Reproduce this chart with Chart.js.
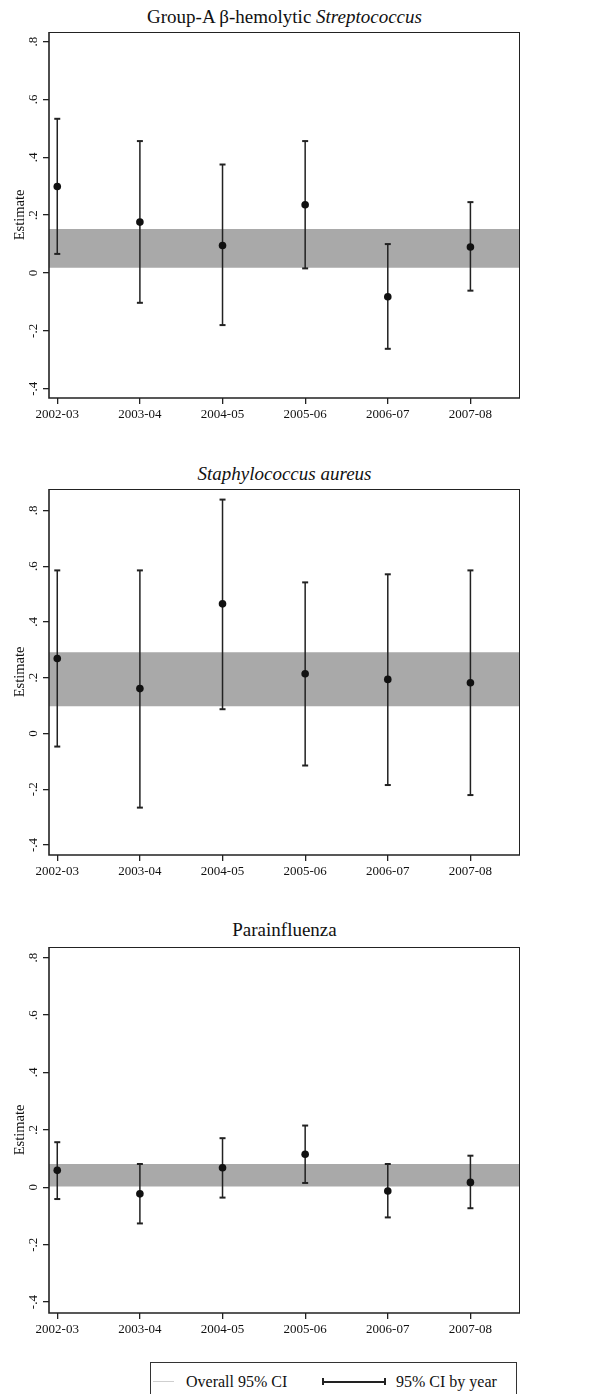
<!DOCTYPE html>
<html><head><meta charset="utf-8">
<script src="https://cdn.jsdelivr.net/npm/chart.js@4"></script>
<style>
body{margin:0;background:#fff;width:610px;height:1394px;overflow:hidden;position:relative;font-family:'Liberation Serif','Times New Roman',serif;color:#111}
.panel{position:absolute;left:0;width:530px;height:430px}
.title{position:absolute;left:49px;width:471px;text-align:center;font-size:19px;line-height:22px;white-space:nowrap}
.legend{position:absolute;left:150px;top:1362px;width:367px;height:50px;border:1px solid #333;box-sizing:border-box;font-size:16px}
.legend span{position:absolute;top:9px;line-height:20px;white-space:nowrap}
.ln{position:absolute}
</style>
</head><body>
<div class="title" style="top:6px">Group-A β-hemolytic <i>Streptococcus</i></div>
<div class="panel" style="top:0px"><canvas id="c1" width="530" height="430"></canvas></div>
<div class="title" style="top:463px"><i>Staphylococcus aureus</i></div>
<div class="panel" style="top:457px"><canvas id="c2" width="530" height="430"></canvas></div>
<div class="title" style="top:919px">Parainfluenza</div>
<div class="panel" style="top:915px"><canvas id="c3" width="530" height="430"></canvas></div>
<div class="legend">
  <div class="ln" style="left:2px;top:18px;width:21px;height:1px;background:#cfcfcf"></div>
  <span style="left:35px">Overall 95% CI</span>
  <div class="ln" style="left:171px;top:18px;width:63px;height:1.5px;background:#222"></div>
  <div class="ln" style="left:171px;top:15px;width:1.5px;height:7px;background:#222"></div>
  <div class="ln" style="left:233px;top:15px;width:1.5px;height:7px;background:#222"></div>
  <span style="left:245px">95% CI by year</span>
</div>
<script>
const categories = ['2002-03','2003-04','2004-05','2005-06','2006-07','2007-08'];
const yTickValues = [-0.4,-0.2,0,0.2,0.4,0.6,0.8];
const yTickLabels = ['-.4','-.2','0','.2','.4','.6','.8'];
const xRange = [-0.1, 5.6];

const strepEstimate = [0.299, 0.176, 0.095, 0.236, -0.082, 0.090];
const strepLower    = [0.066, -0.103, -0.180, 0.016, -0.262, -0.061];
const strepUpper    = [0.533, 0.456, 0.375, 0.456, 0.100, 0.245];
const strepOverall  = [0.018, 0.152];
const strepRange    = [-0.432, 0.833];

const staphEstimate = [0.269, 0.161, 0.465, 0.214, 0.194, 0.182];
const staphLower    = [-0.047, -0.266, 0.087, -0.115, -0.185, -0.221];
const staphUpper    = [0.585, 0.585, 0.839, 0.542, 0.571, 0.585];
const staphOverall  = [0.098, 0.291];
const staphRange    = [-0.436, 0.877];

const paraEstimate  = [0.059, -0.023, 0.068, 0.115, -0.013, 0.017];
const paraLower     = [-0.041, -0.126, -0.036, 0.015, -0.105, -0.073];
const paraUpper     = [0.157, 0.081, 0.171, 0.215, 0.081, 0.110];
const paraOverall   = [0.003, 0.081];
const paraRange     = [-0.438, 0.837];

Chart.defaults.font.family = "'Liberation Serif','Times New Roman',serif";
Chart.defaults.color = '#111';

const framePlugin = {
  id: 'frame',
  afterDatasetsDraw(chart) {
    const a = chart.chartArea, ctx = chart.ctx;
    ctx.save();
    ctx.strokeStyle = '#222';
    ctx.lineWidth = 1;
    ctx.beginPath();
    ctx.moveTo(a.left, a.top + 0.5); ctx.lineTo(a.right, a.top + 0.5);
    ctx.moveTo(a.right - 0.5, a.top); ctx.lineTo(a.right - 0.5, a.bottom);
    ctx.stroke();
    ctx.lineWidth = 1.6;
    ctx.beginPath();
    ctx.moveTo(a.left, a.top); ctx.lineTo(a.left, a.bottom);
    ctx.lineTo(a.right, a.bottom);
    ctx.stroke();
    ctx.restore();
  }
};

function makePanel(id, est, lo, hi, overall, yRange) {
  const bars = [];
  categories.forEach((c, i) => {
    bars.push({x: i, y: lo[i]}, {x: i, y: hi[i]}, {x: i, y: null});
  });
  new Chart(document.getElementById(id), {
    type: 'line',
    data: {
      datasets: [
        { data: [{x: xRange[0], y: overall[0]}, {x: xRange[1], y: overall[0]}],
          borderWidth: 0, pointRadius: 0, fill: false, order: 4, borderColor: 'rgba(0,0,0,0)' },
        { data: [{x: xRange[0], y: overall[1]}, {x: xRange[1], y: overall[1]}],
          borderWidth: 0, pointRadius: 0, fill: '-1', backgroundColor: '#a9a9a9', order: 3, borderColor: 'rgba(0,0,0,0)' },
        { data: bars, borderColor: '#222', borderWidth: 1.5, spanGaps: false,
          pointStyle: 'line', pointRadius: 3, pointBorderWidth: 2, pointBorderColor: '#222', order: 2 },
        { data: est.map((v, i) => ({x: i, y: v})), showLine: false,
          pointRadius: 3.8, pointBackgroundColor: '#111', pointBorderColor: '#111', pointBorderWidth: 0, order: 1 }
      ]
    },
    options: {
      responsive: false, animation: false,
      layout: { padding: { top: 32, right: 10, left: 0, bottom: 0 } },
      plugins: { legend: { display: false }, tooltip: { enabled: false } },
      scales: {
        x: {
          type: 'linear', min: xRange[0], max: xRange[1],
          border: { display: false },
          grid: { display: true, drawOnChartArea: false, drawTicks: true, tickLength: 6, tickColor: '#222', lineWidth: 1.3 },
          afterBuildTicks: s => { s.ticks = categories.map((c, i) => ({value: i})); },
          afterFit: s => { s.height = 32; },
          ticks: { autoSkip: false, maxRotation: 0, minRotation: 0, padding: 3, font: { size: 13 }, color: '#111',
                   callback: v => categories[v] }
        },
        y: {
          type: 'linear', min: yRange[0], max: yRange[1],
          border: { display: false },
          grid: { display: true, drawOnChartArea: false, drawTicks: true, tickLength: 6, tickColor: '#222', lineWidth: 1.3 },
          afterBuildTicks: s => { s.ticks = yTickValues.map(v => ({value: v})); },
          afterFit: s => { s.width = 49; },
          ticks: { minRotation: 90, maxRotation: 90, crossAlign: 'center', padding: 2.5, font: { size: 13 }, color: '#111',
                   callback: v => yTickLabels[yTickValues.findIndex(t => Math.abs(t - v) < 1e-9)] },
          title: { display: true, text: 'Estimate', font: { size: 14.5 }, color: '#111', padding: { top: 11, bottom: 0 } }
        }
      }
    },
    plugins: [framePlugin]
  });
}

makePanel('c1', strepEstimate, strepLower, strepUpper, strepOverall, strepRange);
makePanel('c2', staphEstimate, staphLower, staphUpper, staphOverall, staphRange);
makePanel('c3', paraEstimate, paraLower, paraUpper, paraOverall, paraRange);
</script>
</body></html>
